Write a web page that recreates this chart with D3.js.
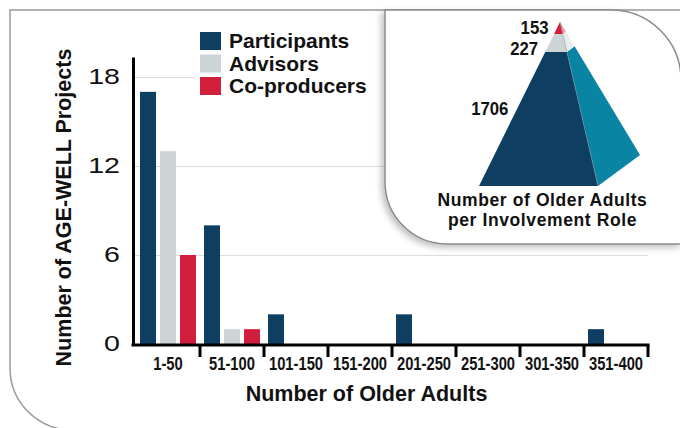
<!DOCTYPE html>
<html>
<head>
<meta charset="utf-8">
<script src="https://cdn.jsdelivr.net/npm/d3@7"></script>
<style>
  body { margin: 0; background: #fff; }
  svg { display: block; font-family: "Liberation Sans", Arial, sans-serif; }
</style>
</head>
<body>
<div id="chart"></div>
<script>
// bar chart data
const categories = ["1-50", "51-100", "101-150", "151-200", "201-250", "251-300", "301-350", "351-400"];
const seriesNames = ["Participants", "Advisors", "Co-producers"];
const participants = [17, 8, 2, 0, 2, 0, 0, 1];
const advisors = [13, 1, 0, 0, 0, 0, 0, 0];
const coProducers = [6, 1, 0, 0, 0, 0, 0, 0];
const yTicks = [0, 6, 12, 18];

// pyramid data (bottom to top)
const roleNames = ["Participants", "Advisors", "Co-producers"];
const roleTotals = [1706, 227, 153];

const colors = ["#0e3e61", "#cdd4d5", "#d11f3b"];
const sideColors = ["#0984a2", "#e9eded", "#ee9aa6"];

const W = 680, H = 428;

const svg = d3.select("#chart").append("svg").attr("width", W).attr("height", H);

const defs = svg.append("defs");
const shadow = defs.append("filter").attr("id", "shadow")
  .attr("x", "-20%").attr("y", "-20%").attr("width", "140%").attr("height", "140%");
shadow.append("feDropShadow").attr("dx", -3).attr("dy", 3)
  .attr("stdDeviation", 3).attr("flood-color", "#000").attr("flood-opacity", 0.25);

// outer frame
svg.append("path")
  .attr("d", "M700,10 H10 V368 A62,62 0 0 0 72,430 H700")
  .attr("fill", "none").attr("stroke", "#9a9a9a").attr("stroke-width", 1.5);

// scales
const x0 = d3.scaleBand().domain(categories).range([136, 648]);
const x1 = d3.scaleBand().domain(seriesNames).range([0, x0.bandwidth()])
  .paddingInner(0.2).paddingOuter(0.2);
const y = d3.scaleLinear().domain([0, 19.35]).range([344, 57]);

// grid
svg.append("g").selectAll("line").data(yTicks.filter(d => d > 0)).join("line")
  .attr("x1", 133).attr("x2", 648)
  .attr("y1", d => y(d) + 0.5).attr("y2", d => y(d) + 0.5)
  .attr("stroke", "#dcdcdc").attr("stroke-width", 1);

// bars
const series = [participants, advisors, coProducers];
const barData = [];
categories.forEach((c, i) => {
  seriesNames.forEach((s, j) => {
    if (series[j][i] > 0) barData.push({ cat: c, name: s, value: series[j][i], color: colors[j] });
  });
});
svg.append("g").selectAll("rect").data(barData).join("rect")
  .attr("x", d => x0(d.cat) + x1(d.name))
  .attr("y", d => y(d.value))
  .attr("width", x1.bandwidth())
  .attr("height", d => y(0) - y(d.value))
  .attr("fill", d => d.color);

// y axis
const yAxis = svg.append("g").attr("transform", "translate(133,0)")
  .call(d3.axisLeft(y).tickValues(yTicks).tickSize(0).tickSizeOuter(0).tickPadding(0));
yAxis.select(".domain").attr("stroke", "#000").attr("stroke-width", 3);
yAxis.selectAll(".tick text")
  .attr("x", -13 / 1.3).attr("dy", "0.3em")
  .attr("transform", "scale(1.3,1)")
  .attr("font-size", 22).attr("font-family", "Liberation Sans, Arial, sans-serif")
  .attr("fill", "#111");

// x axis
const xAxis = svg.append("g").attr("transform", "translate(0,345)")
  .call(d3.axisBottom(x0).tickSize(12).tickSizeOuter(0).tickPadding(0));
xAxis.select(".domain").remove();
xAxis.selectAll(".tick line")
  .attr("x1", x0.bandwidth() / 2).attr("x2", x0.bandwidth() / 2)
  .attr("stroke", "#000").attr("stroke-width", 3);
xAxis.selectAll(".tick text")
  .attr("y", 0).attr("dy", 0)
  .attr("transform", "translate(0,24.5) scale(0.82,1)")
  .attr("font-size", 18).attr("font-weight", "bold")
  .attr("font-family", "Liberation Sans, Arial, sans-serif").attr("fill", "#111");
svg.append("line").attr("x1", 131.5).attr("x2", 649.5).attr("y1", 345).attr("y2", 345)
  .attr("stroke", "#000").attr("stroke-width", 3);

// axis titles
svg.append("text")
  .attr("transform", "translate(71,207.5) rotate(-90)")
  .attr("text-anchor", "middle").attr("font-size", 21.5).attr("font-weight", "bold")
  .attr("fill", "#111").text("Number of AGE-WELL Projects");
svg.append("text")
  .attr("x", 366.5).attr("y", 401)
  .attr("text-anchor", "middle").attr("font-size", 21.5).attr("font-weight", "bold")
  .attr("fill", "#111").text("Number of Older Adults");

// legend
svg.append("rect").attr("x", 195).attr("y", 20).attr("width", 200).attr("height", 85).attr("fill", "#fff");
const legend = svg.append("g").selectAll("g").data(seriesNames).join("g")
  .attr("transform", (d, i) => `translate(200,${32 + i * 22.5})`);
legend.append("rect").attr("width", 21).attr("height", 18).attr("fill", (d, i) => colors[i]);
legend.append("text").attr("x", 29).attr("y", 16)
  .attr("font-size", 21).attr("font-weight", "bold").attr("fill", "#111").text(d => d);

// inset panel
svg.append("path")
  .attr("d", "M385,10 H611 A70,70 0 0 1 681,80 V244 H447 A62,62 0 0 1 385,182 Z")
  .attr("fill", "#fff").attr("stroke", "#8a8a8a").attr("stroke-width", 1.5)
  .attr("filter", "url(#shadow)");

// pyramid
const apex = [560, 22], baseL = [479, 186], baseR = [598, 186], back = [640, 155];
const py = d3.scaleLinear().domain([0, d3.sum(roleTotals)]).range([baseL[1], apex[1]]);
const frac = v => (py(v) - apex[1]) / (baseL[1] - apex[1]);
const pt = (corner, f) => [apex[0] + f * (corner[0] - apex[0]), apex[1] + f * (corner[1] - apex[1])];

const cum = d3.cumsum(roleTotals);
const segs = roleTotals.map((v, i) => ({
  name: roleNames[i], value: v, lo: cum[i] - v, hi: cum[i], i: i
}));

const pyr = svg.append("g");
pyr.selectAll("path.side").data(segs).join("path").attr("class", "side")
  .attr("d", d => {
    const a = frac(d.lo), b = frac(d.hi);
    return "M" + [pt(baseR, a), pt(back, a), pt(back, b), pt(baseR, b)].join("L") + "Z";
  })
  .attr("fill", d => sideColors[d.i]);
pyr.selectAll("path.front").data(segs).join("path").attr("class", "front")
  .attr("d", d => {
    const a = frac(d.lo), b = frac(d.hi);
    return "M" + [pt(baseL, a), pt(baseR, a), pt(baseR, b), pt(baseL, b)].join("L") + "Z";
  })
  .attr("fill", d => colors[d.i]);
pyr.append("line")
  .attr("x1", apex[0]).attr("y1", apex[1]).attr("x2", baseR[0]).attr("y2", baseR[1])
  .attr("stroke", "#7f9aa8").attr("stroke-width", 0.8).attr("opacity", 0.7);

// pyramid labels, placed from the top down with a minimum gap
let prevY = -Infinity;
const labelPos = segs.slice().reverse().map(d => {
  let cy = py(d.lo + 0.58 * d.value);
  cy = Math.max(cy, prevY + 21);
  prevY = cy;
  const lx = pt(baseL, (cy - apex[1]) / (baseL[1] - apex[1]))[0] - 9;
  return { d: d, x: lx, y: cy };
});
pyr.selectAll("text").data(labelPos).join("text")
  .attr("transform", p => `translate(${p.x},${p.y + 6.5}) scale(0.93,1)`)
  .attr("text-anchor", "end").attr("font-size", 18).attr("font-weight", "bold")
  .attr("fill", "#111").text(p => p.d.value);

svg.append("text").attr("text-anchor", "middle").attr("font-size", 17.5).attr("font-weight", "bold")
  .attr("letter-spacing", 0.6).attr("fill", "#111")
  .selectAll("tspan").data(["Number of Older Adults", "per Involvement Role"]).join("tspan")
  .attr("x", 542.5).attr("y", (d, i) => 206 + i * 20).text(d => d);
</script>
</body>
</html>
